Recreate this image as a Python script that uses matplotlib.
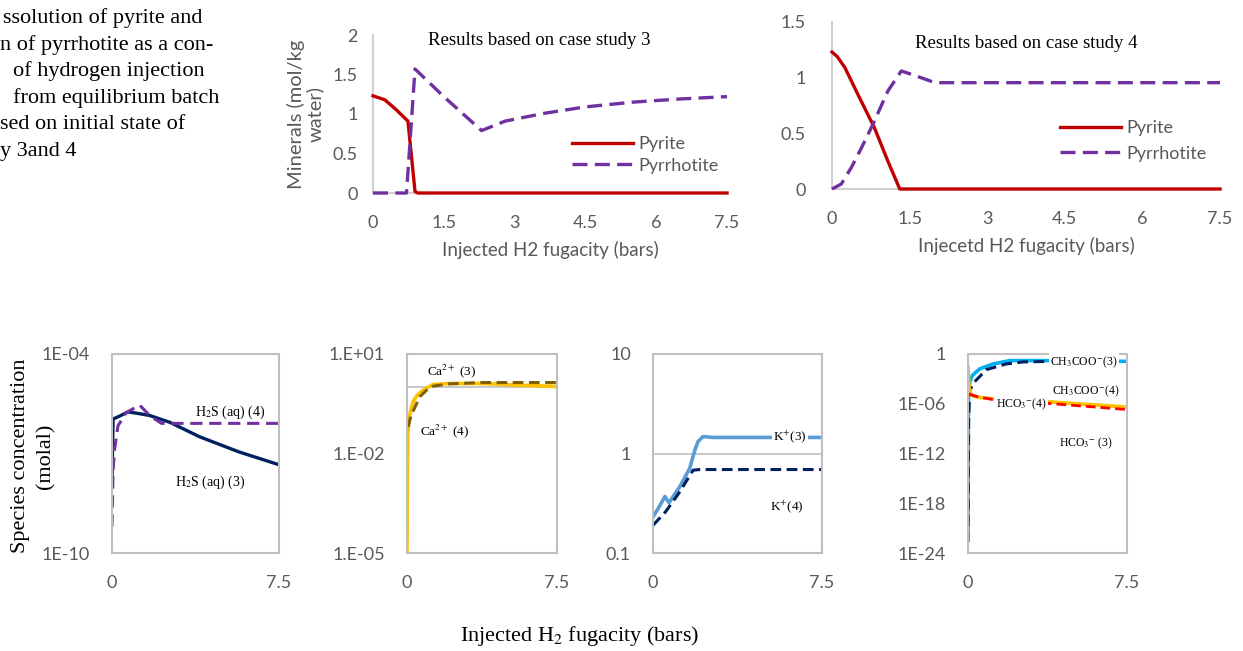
import matplotlib.pyplot as plt
from matplotlib.ticker import FixedLocator, FixedFormatter, NullLocator

plt.rcParams['mathtext.fontset'] = 'stix'
SANS = 'Lato'
SERIF = 'Liberation Serif'
GREY = '#595959'

# ---- minerals, case study 3
c3_x_pyrite = [0, 0.25, 0.5, 0.74, 0.89, 0.95, 7.5]
c3_pyrite = [1.23, 1.18, 1.05, 0.91, 0.02, 0, 0]
c3_x_pyrr = [0, 0.71, 0.89, 1.5, 2.3, 2.8, 3.64, 4.5, 5.5, 6.5, 7.5]
c3_pyrr = [0, 0, 1.57, 1.22, 0.79, 0.91, 1.01, 1.09, 1.15, 1.19, 1.22]

# ---- minerals, case study 4
c4_x_pyrite = [0, 0.1, 0.25, 0.5, 0.82, 1.08, 1.31, 7.5]
c4_pyrite = [1.23, 1.19, 1.09, 0.85, 0.55, 0.25, 0, 0]
c4_x_pyrr = [0, 0.18, 0.37, 0.57, 0.79, 1.08, 1.34, 1.6, 1.99, 7.5]
c4_pyrr = [0, 0.045, 0.19, 0.37, 0.58, 0.88, 1.06, 1.02, 0.955, 0.955]

mineral_ticks_x = [0, 1.5, 3, 4.5, 6, 7.5]
mineral_ticklabels_x = ['0', '1.5', '3', '4.5', '6', '7.5']

# ---- species (molal)
h2s_x3 = [0, 0.05, 0.3, 0.72, 1.2, 1.69, 2.6, 3.93, 5.73, 7.45]
h2s_3 = [1.7e-8, 1.1e-6, 1.3e-6, 1.8e-6, 1.6e-6, 1.4e-6, 8.7e-7, 3.2e-7, 1.1e-7, 4.7e-8]
h2s_x4 = [0, 0.05, 0.12, 0.27, 0.64, 1.24, 1.69, 2.22, 7.5]
h2s_4 = [6.3e-10, 3.2e-8, 1.4e-7, 6.9e-7, 1.7e-6, 2.9e-6, 1.4e-6, 8.1e-7, 8.1e-7]

ca_x3 = [0, 0.02, 0.05, 0.15, 0.3, 0.5, 0.8, 1.3, 2.1, 3.8, 5.5, 7.5]
ca_3 = [1e-5, 3.2e-3, 5.0e-2, 0.16, 0.36, 0.56, 0.81, 1.2, 1.29, 1.29, 1.15, 1.05]
ca_x4 = [0.05, 0.2, 0.4, 0.63, 1.0, 1.3, 2.1, 3.8, 7.5]
ca_4 = [0.063, 0.14, 0.25, 0.51, 0.83, 1.07, 1.26, 1.38, 1.38]

k_x3 = [0, 0.27, 0.53, 0.71, 1.18, 1.63, 1.85, 2.0, 2.22, 2.66, 5.0, 7.5]
k_3 = [0.23, 0.29, 0.37, 0.32, 0.46, 0.71, 1.07, 1.32, 1.48, 1.45, 1.45, 1.45]
k_x4 = [0, 0.56, 1.15, 1.78, 2.07, 7.5]
k_4 = [0.19, 0.26, 0.40, 0.68, 0.69, 0.69]

ac_x3 = [0, 0.02, 0.08, 0.2, 0.55, 1.18, 1.97, 3.85, 7.5]
ac_3 = [6e-22, 6e-6, 4e-4, 2.5e-3, 1.6e-2, 6.3e-2, 0.16, 0.16, 0.13]
ac_x4 = [0, 0.03, 0.08, 0.31, 0.87, 1.8, 2.6, 3.85]
ac_4 = [2e-23, 1e-8, 4e-5, 4.5e-4, 1.3e-2, 6.3e-2, 0.11, 0.13]
hco_x4 = [0, 0.05, 0.16, 0.55, 1.18, 4.0, 7.5]
hco_4 = [2.5e-2, 1e-4, 1e-5, 5.6e-6, 4e-6, 1.6e-6, 4e-7]
hco_x3 = [0.05, 0.24, 0.55, 1.18, 4.0, 7.5]
hco_3 = [1.6e-5, 1e-5, 6.3e-6, 3.2e-6, 1e-6, 2e-7]

caption_lines = ['ssolution of pyrite and', 'n of pyrrhotite as a con-',
                 'of hydrogen injection', 'from equilibrium batch',
                 'sed on initial state of', 'y 3and 4']
caption_x = [3, 0, 13, 13, 0, 0]

species_ylabel = ['Species concentration', '(molal)']

fig = plt.figure(figsize=(12.43, 6.51), dpi=100)
W, H = 1243.0, 651.0


def rect(x0, y0, x1, y1):
    return [x0 / W, 1 - y1 / H, (x1 - x0) / W, (y1 - y0) / H]


for i, line in enumerate(caption_lines):
    fig.text(caption_x[i] / W, 1 - (18 + 26.7 * i) / H, line, family=SERIF,
             fontsize=16, va='center', ha='left', color='black')


def mineral_axes(r, ylim, yticks, ylabels, xlabel, title, title_pos, ypad):
    ax = fig.add_axes(r)
    ax.set_xlim(0, 7.5)
    ax.set_ylim(*ylim)
    for s in ['top', 'right']:
        ax.spines[s].set_visible(False)
    for s in ['left', 'bottom']:
        ax.spines[s].set_color('#D0D0D0')
        ax.spines[s].set_linewidth(1.5)
    ax.set_xticks(mineral_ticks_x)
    ax.set_xticklabels(mineral_ticklabels_x)
    ax.set_yticks(yticks)
    ax.set_yticklabels(ylabels)
    ax.tick_params(length=0, labelsize=13, labelcolor=GREY)
    ax.tick_params(axis='x', pad=16)
    ax.tick_params(axis='y', pad=ypad)
    for lab in ax.get_xticklabels() + ax.get_yticklabels():
        lab.set_family(SANS)
    ax.set_xlabel(xlabel, family=SANS, fontsize=13.5, color=GREY, labelpad=7)
    ax.text(title_pos[0], title_pos[1], title, transform=ax.transAxes,
            family=SERIF, fontsize=13.5, ha='center', va='center')
    return ax


ax1 = mineral_axes(rect(373, 35, 727, 193), (0, 2), [0, 0.5, 1, 1.5, 2],
                   ['0', '0.5', '1', '1.5', '2'], 'Injected H2 fugacity (bars)',
                   'Results based on case study 3', (0.47, 0.965), 11)
ax1.plot(c3_x_pyrite, c3_pyrite, color='#C00000', lw=2.4, label='Pyrite',
         clip_on=False, zorder=3)
ax1.plot(c3_x_pyrr, c3_pyrr, color='#7030A0', lw=2.4, dashes=(4.5, 2.2),
         label='Pyrrhotite', clip_on=False, zorder=3)
ax1.set_ylabel('Minerals (mol/kg\nwater)', family=SANS, fontsize=14.5, color=GREY,
               labelpad=6, linespacing=1.1)
ax1.legend(loc='center left', bbox_to_anchor=(572 / W, 1 - 155 / H),
           bbox_transform=fig.transFigure, frameon=False, handlelength=3.4,
           prop={'family': SANS, 'size': 13}, labelcolor=GREY,
           handletextpad=0.3, labelspacing=0.3, borderaxespad=0, borderpad=0)

ax2 = mineral_axes(rect(832, 22, 1220, 189), (0, 1.5), [0, 0.5, 1, 1.5],
                   ['0', '0.5', '1', '1.5'], 'Injecetd H2 fugacity (bars)',
                   'Results based on case study 4', (0.5, 0.87), 19)
ax2.plot(c4_x_pyrite, c4_pyrite, color='#C00000', lw=2.4, label='Pyrite',
         clip_on=False, zorder=3)
ax2.plot(c4_x_pyrr, c4_pyrr, color='#7030A0', lw=2.4, dashes=(4.5, 2.2),
         label='Pyrrhotite', clip_on=False, zorder=3)
ax2.legend(loc='center left', bbox_to_anchor=(1060 / W, 1 - 141 / H),
           bbox_transform=fig.transFigure, frameon=False, handlelength=3.4,
           prop={'family': SANS, 'size': 13}, labelcolor=GREY,
           handletextpad=0.3, labelspacing=0.5, borderaxespad=0, borderpad=0)


def species_axes(x0, x1, ylim, yticks, ylabels, gridline=None):
    ax = fig.add_axes(rect(x0, 354, x1, 553))
    ax.set_xlim(0, 7.5)
    ax.set_yscale('log')
    ax.set_ylim(*ylim)
    for s in ax.spines.values():
        s.set_color('#BFBFBF')
        s.set_linewidth(1.5)
    ax.xaxis.set_major_locator(FixedLocator([0, 7.5]))
    ax.xaxis.set_major_formatter(FixedFormatter(['0', '7.5']))
    ax.yaxis.set_major_locator(FixedLocator(yticks))
    ax.yaxis.set_major_formatter(FixedFormatter(ylabels))
    ax.yaxis.set_minor_locator(NullLocator())
    ax.tick_params(length=0, labelsize=13, labelcolor=GREY, pad=16)
    for lab in ax.get_xticklabels() + ax.get_yticklabels():
        lab.set_family(SANS)
    if gridline is not None:
        ax.axhline(gridline, color='#BFBFBF', lw=1.2, zorder=0)
    return ax


def note(ax, x, y, s, size=10, bg=False):
    kw = {}
    if bg:
        kw['bbox'] = dict(facecolor='white', edgecolor='none', pad=1)
    ax.text(x / W, 1 - y / H, s, transform=fig.transFigure, family=SERIF,
            fontsize=size, ha='center', va='center', zorder=5, **kw)


b1 = species_axes(112, 279, (1e-10, 1e-4), [1e-10, 1e-4], ['1E-10', '1E-04'])
b1.plot(h2s_x3, h2s_3, color='#002060', lw=2.4)
b1.plot(h2s_x4, h2s_4, color='#7030A0', lw=2.2, dashes=(4, 2.2))
note(b1, 230, 412, 'H$_2$S (aq) (4)')
note(b1, 210, 482, 'H$_2$S (aq) (3)')
for i, line in enumerate(species_ylabel):
    fig.text((21 + 25 * i) / W, 1 - 456 / H, line, family=SERIF, fontsize=16,
             rotation=90, ha='center', va='center')

b2 = species_axes(407, 557, (1e-5, 1e1), [1e-5, 1e-2, 1e1],
                  ['1.E-05', '1.E-02', '1.E+01'], gridline=1)
b2.plot(ca_x3, ca_3, color='#FFC000', lw=2.6)
b2.plot(ca_x4, ca_4, color='#7F6000', lw=2.2, dashes=(3.5, 1.8))
note(b2, 452, 371, 'Ca$^{2+}$ (3)', 9.5)
note(b2, 445, 431, 'Ca$^{2+}$ (4)', 9.5)

b3 = species_axes(653, 822, (0.1, 10), [0.1, 1, 10], ['0.1', '1', '10'], gridline=1)
b3.plot(k_x3, k_3, color='#5B9BD5', lw=2.6)
b3.plot(k_x4, k_4, color='#002060', lw=2.2, dashes=(3.5, 1.8))
note(b3, 790, 437, 'K$^{+}$(3)', 9.5, bg=True)
note(b3, 787, 507, 'K$^{+}$(4)', 9.5)

b4 = species_axes(968, 1127, (1e-24, 1), [1e-24, 1e-18, 1e-12, 1e-6, 1],
                  ['1E-24', '1E-18', '1E-12', '1E-06', '1'])
b4.plot(ac_x3, ac_3, color='#00B0F0', lw=2.6)
b4.plot(ac_x4, ac_4, color='#002060', lw=2.2, dashes=(3.5, 1.8))
b4.plot(hco_x4, hco_4, color='#FFC000', lw=2.6)
b4.plot(hco_x3, hco_3, color='#FF0000', lw=2.0, dashes=(3.5, 1.8))
note(b4, 1084, 362, 'CH$_3$COO$^{-}$(3)', 8.5, bg=True)
note(b4, 1086, 391, 'CH$_3$COO$^{-}$(4)', 8.5)
note(b4, 1021, 404, 'HCO$_3$$^{-}$(4)', 8.5, bg=True)
note(b4, 1086, 443, 'HCO$_3$$^{-}$ (3)', 8.5)

fig.text(580 / W, 1 - 636 / H, 'Injected H$_2$ fugacity (bars)', family=SERIF,
         fontsize=16, ha='center', va='center')

fig.savefig('out.png', dpi=100)
